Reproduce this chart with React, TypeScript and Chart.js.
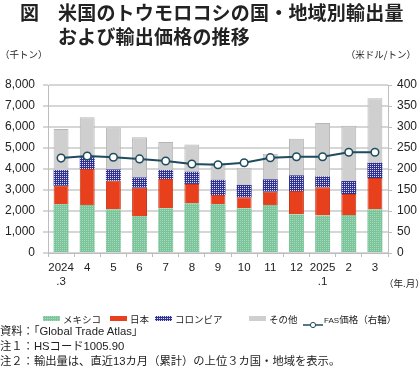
import React, { useEffect, useRef } from "react";
import { Chart, registerables } from "chart.js";

Chart.register(...registerables);

const categories: (string | string[])[] = [["2024", ".3"], "4", "5", "6", "7", "8", "9", "10", "11", "12", ["2025", ".1"], "2", "3"];
const mexico = [2330, 2290, 2080, 1760, 2130, 2370, 2330, 2130, 2290, 1840, 1780, 1810, 2080];
const japan = [870, 1710, 1360, 1350, 1390, 920, 430, 520, 630, 1110, 1350, 1000, 1490];
const colombia = [750, 560, 540, 490, 430, 580, 720, 590, 590, 750, 520, 620, 730];
const others = [1950, 1900, 2000, 1910, 1340, 1300, 820, 820, 1220, 1740, 2540, 2630, 3070];
const fasPrice = [226, 231, 228, 224, 219, 212, 210, 215, 227, 229, 229, 240, 240];
const leftMax = 8000;
const leftStep = 1000;
const rightMax = 400;
const rightStep = 50;

const FONT = 'Arial, "Liberation Sans", "Noto Sans CJK JP", sans-serif';
const JFONT = '"Noto Sans CJK JP", "Liberation Sans", sans-serif';

function makePatternCanvas(base: string, dot: string): HTMLCanvasElement {
  const c = document.createElement("canvas");
  c.width = 2;
  c.height = 2;
  const ctx = c.getContext("2d")!;
  ctx.fillStyle = base;
  ctx.fillRect(0, 0, 2, 2);
  ctx.fillStyle = dot;
  ctx.fillRect(0, 0, 1, 1);
  return c;
}

const greenCanvas = makePatternCanvas("#7cc59b", "#a6d9bb");
const blueCanvas = makePatternCanvas("#2f338f", "#dcdcf6");

const RED = "#e8401c";
const GRAY = "#cfcfcf";
const LINE = "#1f4c5e";

function LegendItem(props: { x: number; label: string; swatch: React.ReactNode; textX: number }) {
  return (
    <>
      <div style={{ position: "absolute", left: props.x, top: 316 }}>{props.swatch}</div>
      <div
        style={{
          position: "absolute",
          left: props.textX,
          top: 311,
          fontFamily: JFONT,
          fontSize: 9.5,
          lineHeight: "16px",
          color: "#222",
          whiteSpace: "nowrap",
        }}
      >
        {props.label}
      </div>
    </>
  );
}

export default function App() {
  const canvasRef = useRef<HTMLCanvasElement | null>(null);

  useEffect(() => {
    const canvas = canvasRef.current;
    if (!canvas) return;
    const ctx = canvas.getContext("2d")!;
    const greenPat = ctx.createPattern(greenCanvas, "repeat")!;
    const bluePat = ctx.createPattern(blueCanvas, "repeat")!;

    const chart = new Chart(canvas, {
      type: "bar",
      data: {
        labels: categories,
        datasets: [
          {
            type: "line",
            label: "FAS価格（右軸）",
            data: fasPrice,
            yAxisID: "y1",
            borderColor: LINE,
            borderWidth: 2,
            pointRadius: 3.8,
            pointBackgroundColor: "#ffffff",
            pointBorderColor: LINE,
            pointBorderWidth: 1.5,
            tension: 0,
            order: 0,
          } as any,
          {
            label: "メキシコ",
            data: mexico,
            backgroundColor: greenPat,
            borderWidth: 0,
            yAxisID: "y",
            stack: "s",
            order: 1,
          },
          {
            label: "日本",
            data: japan,
            backgroundColor: RED,
            borderColor: "#c9361a",
            borderWidth: 1,
            yAxisID: "y",
            stack: "s",
            order: 1,
          },
          {
            label: "コロンビア",
            data: colombia,
            backgroundColor: bluePat,
            borderWidth: 0,
            yAxisID: "y",
            stack: "s",
            order: 1,
          },
          {
            label: "その他",
            data: others,
            backgroundColor: GRAY,
            borderColor: "#b6b6b6",
            borderWidth: 1,
            yAxisID: "y",
            stack: "s",
            order: 1,
          },
        ],
      },
      options: {
        responsive: false,
        animation: false,
        devicePixelRatio: 1,
        layout: { padding: { top: 85, bottom: 85, left: 0, right: 0 } },
        plugins: { legend: { display: false }, tooltip: { enabled: false } },
        datasets: { bar: { categoryPercentage: 1, barPercentage: 0.57 } },
        scales: {
          x: {
            stacked: true,
            offset: true,
            border: { display: true, color: "#bdbdbd", width: 1 },
            grid: { display: true, drawOnChartArea: false, drawTicks: true, tickLength: 4, color: "#bdbdbd", offset: true },
            ticks: {
              font: { family: FONT, size: 11.5 },
              color: "#222",
              padding: 4,
              maxRotation: 0,
              autoSkip: false,
            },
            afterFit: (s: any) => {
              s.height = 40;
            },
          },
          y: {
            stacked: true,
            position: "left",
            min: 0,
            max: leftMax,
            border: { display: true, color: "#bdbdbd", width: 1 },
            grid: { color: "#d6d6d6", lineWidth: 2, tickLength: 5 },
            ticks: {
              stepSize: leftStep,
              font: { family: FONT, size: 12 },
              color: "#222",
              padding: 8,
              callback: (v: any) => Number(v).toLocaleString("en-US"),
            },
            afterFit: (s: any) => {
              s.width = 48;
            },
          },
          y1: {
            position: "right",
            min: 0,
            max: rightMax,
            border: { display: true, color: "#bdbdbd", width: 1 },
            grid: { drawOnChartArea: false, tickLength: 4, color: "#bdbdbd" },
            ticks: {
              stepSize: rightStep,
              font: { family: FONT, size: 12 },
              color: "#222",
              padding: 5,
            },
            afterFit: (s: any) => {
              s.width = 32;
            },
          },
        },
      },
    });
    return () => chart.destroy();
  }, []);

  const sw = (bg: string) => <div style={{ width: 17, height: 5, background: bg }} />;

  return (
    <div style={{ position: "fixed", left: 0, top: 0, width: 420, height: 378, background: "#fff", overflow: "hidden" }}>
      <canvas ref={canvasRef} width={420} height={378} style={{ position: "absolute", left: 0, top: 0, width: 420, height: 378 }} />
      <div style={{ position: "absolute", left: 20, top: 0, fontFamily: JFONT, fontWeight: 700, fontSize: 19, lineHeight: "24px", color: "#222" }}>図</div>
      <div style={{ position: "absolute", left: 58, top: 0, fontFamily: JFONT, fontWeight: 700, fontSize: 19, lineHeight: "24px", color: "#222", whiteSpace: "nowrap", letterSpacing: 0.2 }}>
        <div>米国のトウモロコシの国・地域別輸出量</div>
        <div>および輸出価格の推移</div>
      </div>
      <div style={{ position: "absolute", left: 0, top: 47, fontFamily: JFONT, fontSize: 9.5, lineHeight: "14px", color: "#222" }}>（千トン）</div>
      <div style={{ position: "absolute", right: 4, top: 47, fontFamily: JFONT, fontSize: 9.5, lineHeight: "14px", color: "#222" }}>（米ドル/トン）</div>
      <div style={{ position: "absolute", left: 384, top: 276, fontFamily: JFONT, fontSize: 9.5, lineHeight: "14px", color: "#222" }}>（年.月）</div>

      <LegendItem x={43} textX={63} label="メキシコ" swatch={<div style={{ width: 17, height: 5, backgroundImage: `url(${greenCanvas.toDataURL()})` }} />} />
      <LegendItem x={110} textX={130} label="日本" swatch={sw(RED)} />
      <LegendItem x={155} textX={175} label="コロンビア" swatch={<div style={{ width: 17, height: 5, backgroundImage: `url(${blueCanvas.toDataURL()})` }} />} />
      <LegendItem x={249} textX={269} label="その他" swatch={sw(GRAY)} />
      <div style={{ position: "absolute", left: 303, top: 315 }}>
        <svg width="20" height="8">
          <line x1="0" y1="4" x2="20" y2="4" stroke={LINE} strokeWidth="1.5" />
          <circle cx="10" cy="4" r="2.6" fill="#fff" stroke={LINE} strokeWidth="1" />
        </svg>
      </div>
      <div style={{ position: "absolute", left: 324, top: 311, fontFamily: JFONT, fontSize: 9.5, lineHeight: "16px", color: "#222", whiteSpace: "nowrap" }}>
        <span style={{ fontSize: 8, fontFamily: FONT }}>FAS</span>価格（右軸）
      </div>

      <div style={{ position: "absolute", left: 0, top: 324, fontFamily: FONT, fontSize: 11.3, lineHeight: "15px", color: "#222", whiteSpace: "nowrap" }}>
        <div>資料：「Global Trade Atlas」</div>
        <div>注１：HSコード1005.90</div>
        <div>注２：輸出量は、直近13カ月（累計）の上位３カ国・地域を表示。</div>
      </div>
    </div>
  );
}
